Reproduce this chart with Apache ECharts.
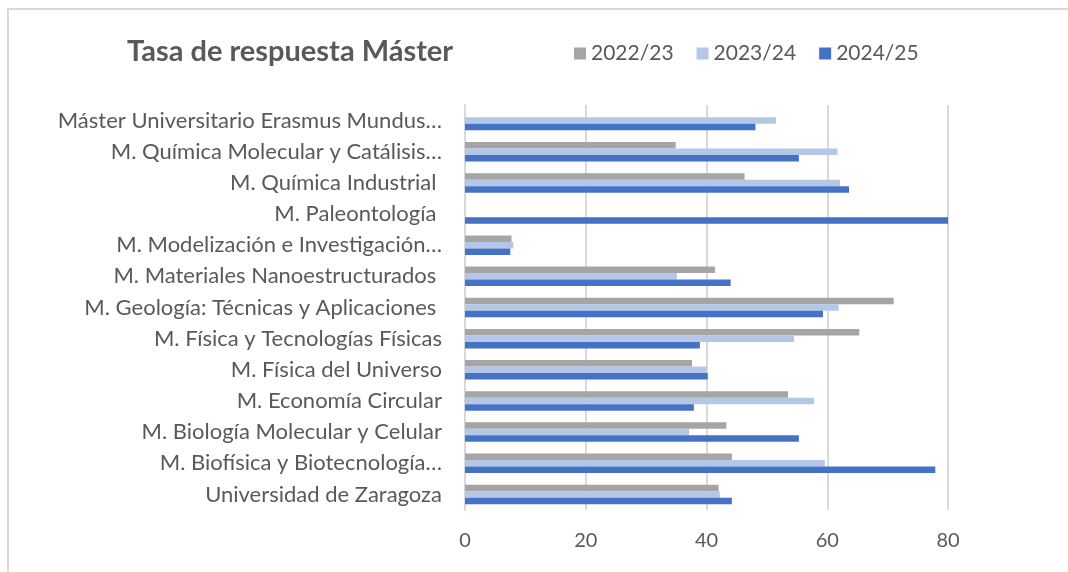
<!DOCTYPE html>
<html>
<head>
<meta charset="utf-8">
<script src="https://cdn.jsdelivr.net/npm/echarts@6/dist/echarts.min.js"></script>
<style>
	html, body { margin: 0; padding: 0; background: #fff; }
	#frame {
		position: absolute; left: 7px; top: 8px; width: 1100px; height: 600px;
		border: 2px solid #d9d9d9; box-sizing: border-box;
	}
	#chart { position: absolute; left: 0; top: 0; width: 1068px; height: 572px; }
</style>
</head>
<body>
<div id="frame"></div>
<div id="chart"></div>
<script>
	// categorias, de arriba abajo
	var categorias = [
		'Máster Universitario Erasmus Mundus…',
		'M. Química Molecular y Catálisis…',
		'M. Química Industrial ',
		'M. Paleontología ',
		'M. Modelización e Investigación…',
		'M. Materiales Nanoestructurados ',
		'M. Geología: Técnicas y Aplicaciones ',
		'M. Física y Tecnologías Físicas',
		'M. Física del Universo',
		'M. Economía Circular',
		'M. Biología Molecular y Celular',
		'M. Biofísica y Biotecnología…',
		'Universidad de Zaragoza'
	];
	var cursos = ['2022/23', '2023/24', '2024/25'];
	var datos2022 = [null, 34.9, 46.3, null, 7.7, 41.4, 71.0, 65.3, 37.6, 53.5, 43.3, 44.2, 42.0];
	var datos2023 = [51.5, 61.7, 62.1, null, 8.0, 35.1, 61.9, 54.5, 40.0, 57.8, 37.1, 59.6, 42.2];
	var datos2024 = [48.1, 55.3, 63.6, 80.0, 7.5, 44.0, 59.3, 38.9, 40.2, 37.9, 55.3, 77.9, 44.2];
	var ticksX = { min: 0, max: 80, interval: 20 };

	var colores = ['#A5A5A5', '#B4C7E7', '#4472C4'];
	var fuente = 'Lato';

	var myChart = echarts.init(document.getElementById('chart'), null, { renderer: 'canvas' });
	var serie = function(nombre, datos) {
		return {
			name: nombre,
			type: 'bar',
			barWidth: 6.5,
			barGap: '0%',
			data: datos
		};
	};
	var option = {
		animation: false,
		color: colores,
		title: {
			text: 'Tasa de respuesta Máster',
			left: 122,
			top: 32,
			textStyle: { fontFamily: fuente, fontSize: 29, fontWeight: 'bold', color: '#595959' }
		},
		legend: {
			data: cursos,
			left: 569,
			top: 38,
			icon: 'rect',
			itemWidth: 12,
			itemHeight: 12,
			itemGap: 23,
			textStyle: { fontFamily: fuente, fontSize: 21, color: '#595959' }
		},
		grid: { left: 465, right: 120, top: 105, bottom: 62 },
		xAxis: {
			type: 'value',
			min: ticksX.min,
			max: ticksX.max,
			interval: ticksX.interval,
			axisLine: { show: false },
			axisTick: { show: false },
			splitLine: { lineStyle: { color: '#d9d9d9', width: 2 } },
			axisLabel: { margin: 21, fontFamily: fuente, fontSize: 20, color: '#595959' }
		},
		yAxis: {
			type: 'category',
			inverse: true,
			data: categorias,
			axisLine: { lineStyle: { color: '#d9d9d9', width: 2 } },
			axisTick: { show: false },
			axisLabel: { margin: 23, fontFamily: fuente, fontSize: 22, color: '#595959' }
		},
		series: [
			serie(cursos[0], datos2022),
			serie(cursos[1], datos2023),
			serie(cursos[2], datos2024)
		]
	};
	myChart.setOption(option);
</script>
</body>
</html>
